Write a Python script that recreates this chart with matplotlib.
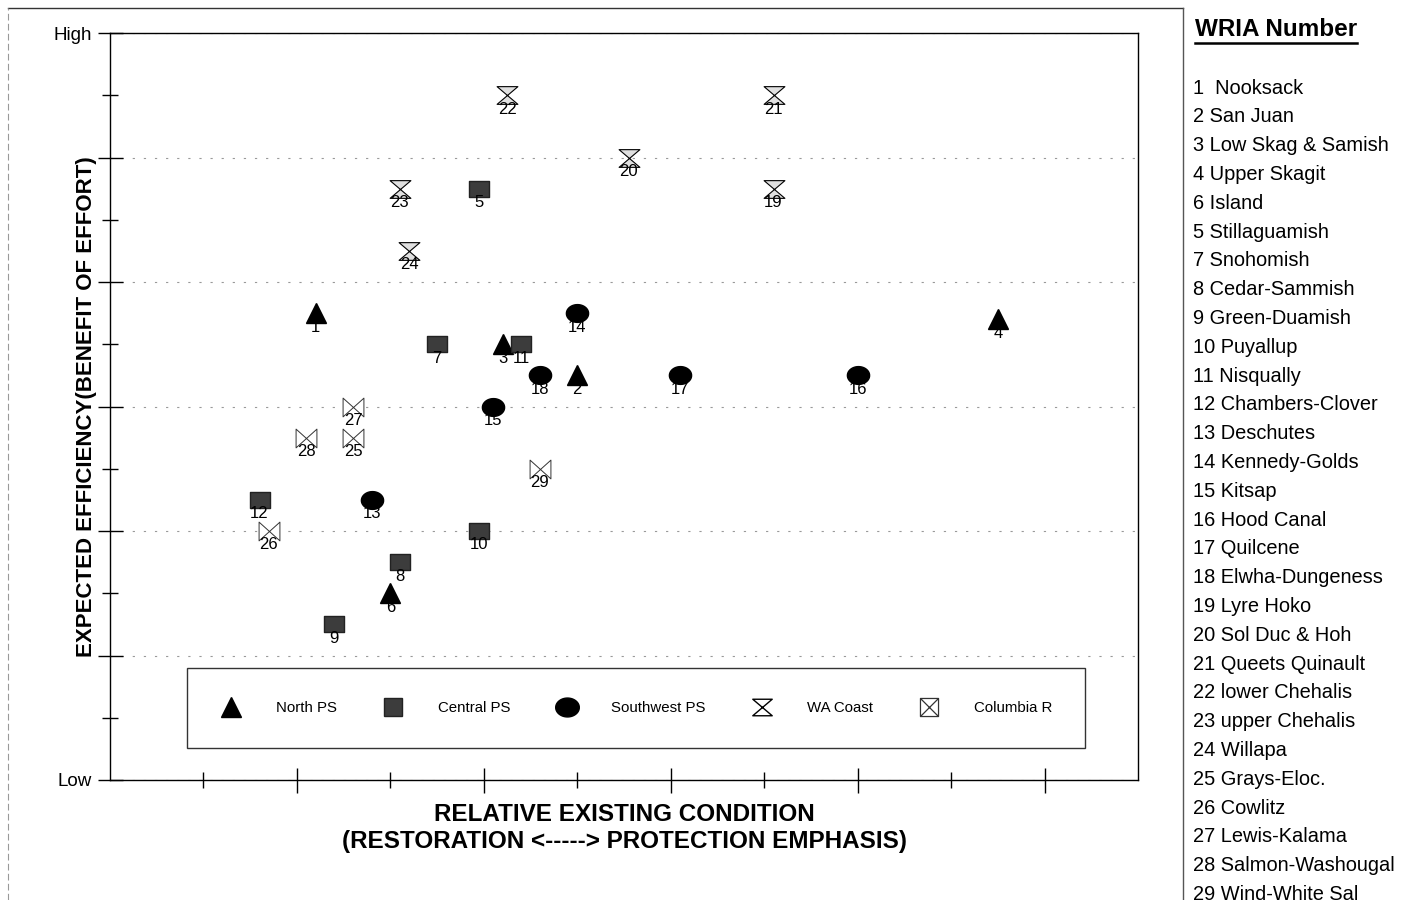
import numpy as np
import matplotlib
matplotlib.use("Agg")
import matplotlib.pyplot as plt
from matplotlib.path import Path
from matplotlib.lines import Line2D

plt.rcParams['font.family'] = ['Liberation Sans', 'DejaVu Sans']

# WRIA groups: id, relative existing condition (x), expected efficiency (y)
north_ids = [1, 2, 3, 4, 6]
north_x = [2.2, 5.0, 4.2, 9.5, 3.0]
north_y = [7.5, 6.5, 7.0, 7.4, 3.0]

central_ids = [5, 7, 8, 9, 10, 11, 12]
central_x = [3.95, 3.5, 3.1, 2.4, 3.95, 4.4, 1.6]
central_y = [9.5, 7.0, 3.5, 2.5, 4.0, 7.0, 4.5]

sw_ids = [13, 14, 15, 16, 17, 18]
sw_x = [2.8, 5.0, 4.1, 8.0, 6.1, 4.6]
sw_y = [4.5, 7.5, 6.0, 6.5, 6.5, 6.5]

coast_ids = [19, 20, 21, 22, 23, 24]
coast_x = [7.1, 5.55, 7.1, 4.25, 3.1, 3.2]
coast_y = [9.5, 10.0, 11.0, 11.0, 9.5, 8.5]

columbia_ids = [25, 26, 27, 28, 29]
columbia_x = [2.6, 1.7, 2.6, 2.1, 4.6]
columbia_y = [5.5, 4.0, 6.0, 5.5, 5.0]

wria_names = ["1  Nooksack", "2 San Juan", "3 Low Skag & Samish", "4 Upper Skagit",
              "6 Island", "5 Stillaguamish", "7 Snohomish", "8 Cedar-Sammish",
              "9 Green-Duamish", "10 Puyallup", "11 Nisqually", "12 Chambers-Clover",
              "13 Deschutes", "14 Kennedy-Golds", "15 Kitsap", "16 Hood Canal",
              "17 Quilcene", "18 Elwha-Dungeness", "19 Lyre Hoko", "20 Sol Duc & Hoh",
              "21 Queets Quinault", "22 lower Chehalis", "23 upper Chehalis",
              "24 Willapa", "25 Grays-Eloc.", "26 Cowlitz", "27 Lewis-Kalama",
              "28 Salmon-Washougal", "29 Wind-White Sal"]

# custom marker shapes
rect = Path([(-1, -0.75), (1, -0.75), (1, 0.75), (-1, 0.75), (-1, -0.75)],
            [Path.MOVETO, Path.LINETO, Path.LINETO, Path.LINETO, Path.CLOSEPOLY])
t = np.linspace(0, 2 * np.pi, 60)
ellipse = Path(np.column_stack([np.cos(t), 0.8 * np.sin(t)]))
hourglass = Path([(-1, 0.85), (1, 0.85), (-1, -0.85), (1, -0.85), (-1, 0.85)],
                 [Path.MOVETO, Path.LINETO, Path.LINETO, Path.LINETO, Path.CLOSEPOLY])
bowtie = Path([(-1, 0.9), (1, -0.9), (1, 0.9), (-1, -0.9), (-1, 0.9)],
              [Path.MOVETO, Path.LINETO, Path.LINETO, Path.LINETO, Path.CLOSEPOLY])
boxx = Path([(-1, -1), (1, -1), (1, 1), (-1, 1), (-1, -1), (1, 1), (-1, 1), (1, -1)],
            [Path.MOVETO, Path.LINETO, Path.LINETO, Path.LINETO, Path.LINETO,
             Path.LINETO, Path.MOVETO, Path.LINETO])

groups = [
    ("North PS", north_ids, north_x, north_y, dict(marker="^", ms=15, mfc="black", mec="black")),
    ("Central PS", central_ids, central_x, central_y, dict(marker=rect, ms=15, mfc="#3c3c3c", mec="#222222")),
    ("Southwest PS", sw_ids, sw_x, sw_y, dict(marker=ellipse, ms=16, mfc="black", mec="black")),
    ("WA Coast", coast_ids, coast_x, coast_y, dict(marker=hourglass, ms=15, mfc="#e0e0e0", mec="black", mew=0.8)),
    ("Columbia R", columbia_ids, columbia_x, columbia_y, dict(marker=bowtie, ms=15, mfc="white", mec="#333333", mew=0.7)),
]

fig = plt.figure(figsize=(14.15, 9), dpi=100)
ax = fig.add_axes([110 / 1415, 1 - 780 / 900, 1028 / 1415, 747 / 900])

for name, ids, xs, ys, style in groups:
    ax.plot(xs, ys, linestyle="none", zorder=3, **style)
    for i, x, y in zip(ids, xs, ys):
        ax.annotate(str(i), (x, y), xytext=(0, -10), textcoords="offset points",
                    ha="center", va="center", fontsize=12, zorder=4)

ax.set_xlim(0, 11)
ax.set_ylim(0, 12)
ax.set_xticks([2, 4, 6, 8, 10])
ax.set_xticks([1, 3, 5, 7, 9], minor=True)
ax.set_yticks(range(0, 13, 2))
ax.set_yticks(range(1, 12, 2), minor=True)
ax.set_xticklabels([])
ax.set_yticklabels(["Low", "", "", "", "", "", "High"], fontsize=13.5)
ax.tick_params(axis="x", which="major", direction="inout", length=18, width=1)
ax.tick_params(axis="x", which="minor", direction="inout", length=12, width=1)
ax.tick_params(axis="y", which="major", direction="inout", length=18, width=1, pad=4)
ax.tick_params(axis="y", which="minor", direction="inout", length=12, width=1)
ax.yaxis.grid(True, which="major", color="#999999", linestyle=(0, (2, 8)), linewidth=0.8)
for s in ax.spines.values():
    s.set_linewidth(1.0)

ax.set_xlabel("RELATIVE EXISTING CONDITION\n(RESTORATION <-----> PROTECTION EMPHASIS)",
              fontsize=17.5, fontweight="bold", labelpad=4, linespacing=1.25)
ax.set_ylabel("EXPECTED EFFICIENCY(BENEFIT OF EFFORT)", fontsize=16,
              fontweight="bold")
ax.yaxis.set_label_coords(-0.013, 0.5)

handles = []
for name, ids, xs, ys, style in groups:
    st = dict(style)
    if name == "Columbia R":
        st.update(marker=boxx, mfc="none", ms=13, mew=0.9)
    if name == "WA Coast":
        st.update(mfc="white", ms=14, mew=1.0)
    if name == "Central PS":
        st.update(marker="s", ms=13)
    if name == "Southwest PS":
        st.update(ms=17)
    handles.append(Line2D([], [], linestyle="none", label=name, **st))
leg = ax.legend(handles=handles, ncol=5, mode="expand", loc="lower left",
                bbox_to_anchor=(77 / 1028, 32 / 747, 898 / 1028, 83 / 747),
                fontsize=10.8, frameon=True, fancybox=False, borderpad=2.2,
                handletextpad=2.2, handlelength=1.5, borderaxespad=0)
leg.get_frame().set_edgecolor("black")
leg.get_frame().set_linewidth(1.0)

# outer frame
fig.add_artist(Line2D([8 / 1415, 1183 / 1415], [1 - 8 / 900, 1 - 8 / 900], color="#333333", lw=1))
fig.add_artist(Line2D([8 / 1415, 8 / 1415], [0, 1 - 8 / 900], color="#999999", lw=0.8, linestyle=(0, (6, 3))))
fig.add_artist(Line2D([1183 / 1415, 1183 / 1415], [0, 1 - 8 / 900], color="#555555", lw=1))

# WRIA list on the right
title = fig.text(1195 / 1415, 1 - 30 / 900, "WRIA Number", fontsize=17.5,
                 fontweight="bold", ha="left", va="center")
fig.canvas.draw()
bb = title.get_window_extent(renderer=fig.canvas.get_renderer())
fig.add_artist(Line2D([bb.x0 / fig.bbox.width, bb.x1 / fig.bbox.width],
                      [1 - 43 / 900, 1 - 43 / 900], color="black", lw=1.8))
for k, name in enumerate(wria_names):
    fig.text(1193 / 1415, 1 - (88 + 28.8 * k) / 900, name, fontsize=14.4,
             ha="left", va="center")

fig.savefig("out.png", dpi=100)
